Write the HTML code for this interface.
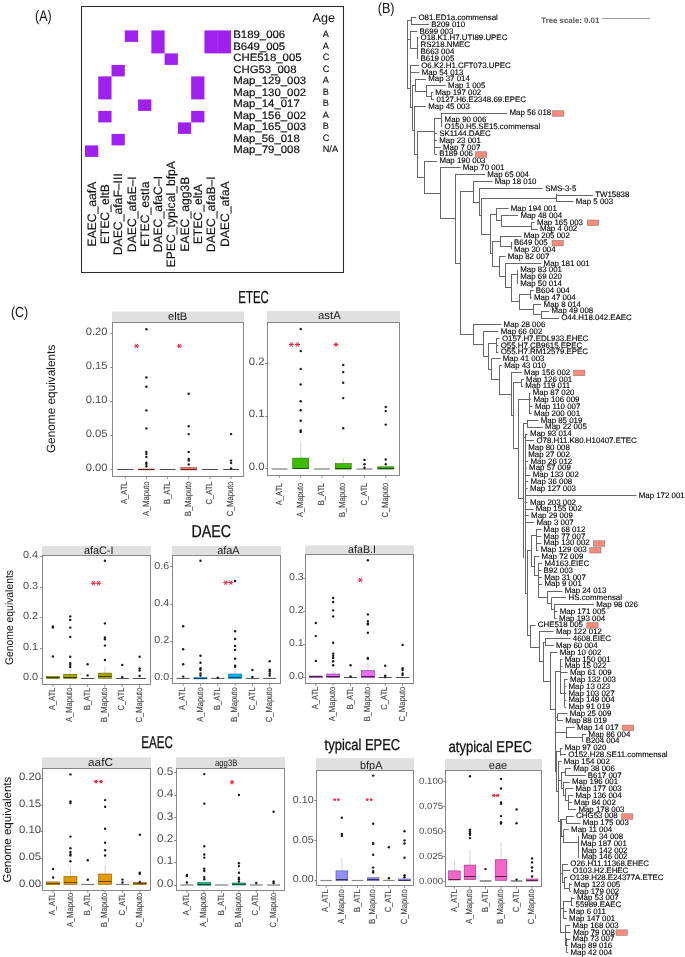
<!DOCTYPE html>
<html><head><meta charset="utf-8"><style>
html,body{margin:0;padding:0;background:#fff;}
svg{display:block;will-change:transform;}
text{font-family:"Liberation Sans",sans-serif;text-rendering:geometricPrecision;}
</style></head><body>
<svg width="685" height="957" viewBox="0 0 685 957" font-family="Liberation Sans, sans-serif" fill="#111">
<rect width="685" height="957" fill="#fff"/>
<text x="35" y="20.8" font-size="15.2" textLength="16.6" lengthAdjust="spacingAndGlyphs">(A)</text>
<rect x="81.5" y="6.5" width="262" height="266" fill="none" stroke="#2b2b2b" stroke-width="1.05"/>
<rect x="124.81" y="30.4" width="13.27" height="11.5" fill="#A020F0"/>
<rect x="151.35" y="30.4" width="13.27" height="23" fill="#A020F0"/>
<rect x="204.43" y="30.4" width="26.54" height="23" fill="#A020F0"/>
<rect x="164.62" y="53.4" width="13.27" height="11.5" fill="#A020F0"/>
<rect x="111.54" y="64.9" width="13.27" height="11.5" fill="#A020F0"/>
<rect x="98.27" y="76.4" width="13.27" height="23" fill="#A020F0"/>
<rect x="191.16" y="76.4" width="13.27" height="23" fill="#A020F0"/>
<rect x="138.08" y="99.4" width="13.27" height="11.5" fill="#A020F0"/>
<rect x="98.27" y="110.9" width="13.27" height="11.5" fill="#A020F0"/>
<rect x="191.16" y="110.9" width="13.27" height="11.5" fill="#A020F0"/>
<rect x="177.89" y="122.4" width="13.27" height="11.5" fill="#A020F0"/>
<rect x="111.54" y="133.9" width="13.27" height="11.5" fill="#A020F0"/>
<rect x="85" y="145.4" width="13.27" height="11.5" fill="#A020F0"/>
<path d="M217.7 30.4V53.4" stroke="#B04CF0" stroke-width="0.5"/>
<text transform="translate(95.84,214.2) rotate(-90)" text-anchor="middle" font-size="12.2" stroke="#000" stroke-width="0.15">EAEC_aafA</text>
<text transform="translate(109.11,214.2) rotate(-90)" text-anchor="middle" font-size="12.2" stroke="#000" stroke-width="0.15">ETEC_eltB</text>
<text transform="translate(122.38,214.2) rotate(-90)" text-anchor="middle" font-size="12.2" stroke="#000" stroke-width="0.15">DAEC_afaF–III</text>
<text transform="translate(135.64,214.2) rotate(-90)" text-anchor="middle" font-size="12.2" stroke="#000" stroke-width="0.15">DAEC_afaE–I</text>
<text transform="translate(148.91,214.2) rotate(-90)" text-anchor="middle" font-size="12.2" stroke="#000" stroke-width="0.15">ETEC_estIa</text>
<text transform="translate(162.19,214.2) rotate(-90)" text-anchor="middle" font-size="12.2" stroke="#000" stroke-width="0.15">DAEC_afaC–I</text>
<text transform="translate(175.45,214.2) rotate(-90)" text-anchor="middle" font-size="12.2" stroke="#000" stroke-width="0.15">EPEC_typical_bfpA</text>
<text transform="translate(188.72,214.2) rotate(-90)" text-anchor="middle" font-size="12.2" stroke="#000" stroke-width="0.15">EAEC_agg3B</text>
<text transform="translate(202,214.2) rotate(-90)" text-anchor="middle" font-size="12.2" stroke="#000" stroke-width="0.15">ETEC_eltA</text>
<text transform="translate(215.26,214.2) rotate(-90)" text-anchor="middle" font-size="12.2" stroke="#000" stroke-width="0.15">DAEC_afaB–I</text>
<text transform="translate(228.53,214.2) rotate(-90)" text-anchor="middle" font-size="12.2" stroke="#000" stroke-width="0.15">DAEC_afaA</text>
<text transform="translate(233.2,38) scale(1.06,1)" font-size="10.75" stroke="#000" stroke-width="0.18">B189_006</text>
<text transform="translate(233.2,49.5) scale(1.06,1)" font-size="10.75" stroke="#000" stroke-width="0.18">B649_005</text>
<text transform="translate(233.2,61) scale(1.06,1)" font-size="10.75" stroke="#000" stroke-width="0.18">CHE518_005</text>
<text transform="translate(233.2,72.5) scale(1.06,1)" font-size="10.75" stroke="#000" stroke-width="0.18">CHG53_008</text>
<text transform="translate(233.2,84) scale(1.06,1)" font-size="10.75" stroke="#000" stroke-width="0.18">Map_129_003</text>
<text transform="translate(233.2,95.5) scale(1.06,1)" font-size="10.75" stroke="#000" stroke-width="0.18">Map_130_002</text>
<text transform="translate(233.2,107) scale(1.06,1)" font-size="10.75" stroke="#000" stroke-width="0.18">Map_14_017</text>
<text transform="translate(233.2,118.5) scale(1.06,1)" font-size="10.75" stroke="#000" stroke-width="0.18">Map_156_002</text>
<text transform="translate(233.2,130) scale(1.06,1)" font-size="10.75" stroke="#000" stroke-width="0.18">Map_165_003</text>
<text transform="translate(233.2,141.5) scale(1.06,1)" font-size="10.75" stroke="#000" stroke-width="0.18">Map_56_018</text>
<text transform="translate(233.2,153) scale(1.06,1)" font-size="10.75" stroke="#000" stroke-width="0.18">Map_79_008</text>
<text x="322.7" y="37.2" font-size="9.2" stroke="#000" stroke-width="0.12">A</text>
<text x="322.7" y="48.7" font-size="9.2" stroke="#000" stroke-width="0.12">A</text>
<text x="322.7" y="60.2" font-size="9.2" stroke="#000" stroke-width="0.12">C</text>
<text x="322.7" y="71.7" font-size="9.2" stroke="#000" stroke-width="0.12">C</text>
<text x="322.7" y="83.2" font-size="9.2" stroke="#000" stroke-width="0.12">A</text>
<text x="322.7" y="94.7" font-size="9.2" stroke="#000" stroke-width="0.12">B</text>
<text x="322.7" y="106.2" font-size="9.2" stroke="#000" stroke-width="0.12">B</text>
<text x="322.7" y="117.7" font-size="9.2" stroke="#000" stroke-width="0.12">A</text>
<text x="322.7" y="129.2" font-size="9.2" stroke="#000" stroke-width="0.12">B</text>
<text x="322.7" y="140.7" font-size="9.2" stroke="#000" stroke-width="0.12">C</text>
<text x="322.7" y="152.2" font-size="9.2" stroke="#000" stroke-width="0.12">N/A</text>
<text x="312.6" y="21.5" font-size="12.6" textLength="22.5" lengthAdjust="spacingAndGlyphs">Age</text>
<text x="377.7" y="13.2" font-size="14.6" textLength="16.8" lengthAdjust="spacingAndGlyphs">(B)</text>
<text x="541.3" y="23.2" font-size="7.85" font-weight="bold" fill="#555">Tree scale: 0.01</text>
<g stroke="#999" stroke-width="1" fill="none"><path d="M602.4 18.5H649.9"/><path d="M602.9 17.3V19.8M649.4 17.3V19.8" stroke="#c8c8c8"/></g>
<path d="M407.5 20V89M411.5 17V25M410.5 31V49M417.5 37V59M410.5 65V108M415.5 79V92M426.5 85V97M431.5 92V100M412.5 85V131M414.5 106V155M417.5 131V178M434.5 118V154M441.5 113V127M424.5 161V194M440.5 167V219M455.5 174V264M460.5 191V335M473.5 181V203M479.5 188V216M481.5 198V235M556.5 194V202M490.5 214V254M496.5 208V221M501.5 215V227M531.5 222V230M492.5 241V267M500.5 236V247M511.5 242V249M499.5 256V277M505.5 263V288M511.5 274V302M517.5 270V284M519.5 294V310M530.5 290V299M533.5 304V315M541.5 311V319M473.5 324V345M483.5 331V357M488.5 343V370M496.5 338V353M491.5 359V380M499.5 365V395M511.5 372V416M513.5 382V449M521.5 379V387M518.5 399V499M529.5 393V414M527.5 420V428M523.5 423V558M525.5 434V594M527.5 550V636M531.5 535V567M536.5 529V551M534.5 556V576M538.5 563V598M547.5 591V604M551.5 598V610M554.5 604V619M530.5 625V648M539.5 631V662M543.5 642V682M545.5 638V646M550.5 652V710M555.5 671V772M560.5 659V694M564.5 679V707M557.5 714V721M566.5 727V738M582.5 734V742M556.5 751V792M560.5 748V756M558.5 761V822M561.5 772V789M565.5 768V776M563.5 782V796M565.5 789V801M568.5 795V810M560.5 819V863M561.5 819V837M566.5 816V824M563.5 830V843M578.5 836V858M560.5 862V933M562.5 864V883M564.5 877V889M569.5 883V891M563.5 901V919M571.5 897V906M565.5 925V946M566.5 938V953M407.5 20.5H411.2M407.5 39.5H410.3M410.5 48.5H417.6M407.5 88.5H410.6M412.5 85.5H415.2M415.5 91.5H426.3M426.5 96.5H431.6M410.5 107.5H412.4M412.5 130.5H414.4M414.5 154.5H417.3M417.5 131.5H434.3M434.5 118.5H441.6M417.5 177.5H424.1M424.5 193.5H440.1M440.5 218.5H455.2M455.5 263.5H460.5M460.5 191.5H473.2M460.5 334.5H473.3M473.5 202.5H479.6M479.5 215.5H481M481.5 198.5H556.4M481.5 234.5H490.6M490.5 214.5H496.5M490.5 253.5H492.9M496.5 220.5H501.7M501.5 226.5H531.6M492.5 241.5H500.2M500.5 246.5H511.2M492.5 266.5H499.9M499.5 276.5H505.7M505.5 287.5H511.5M511.5 274.5H517.1M511.5 301.5H519.3M519.5 294.5H530.8M519.5 309.5H533.1M533.5 314.5H541.5M473.5 344.5H483.1M483.5 356.5H488.2M488.5 343.5H496.2M488.5 369.5H491.4M491.5 379.5H499.1M499.5 394.5H511.2M511.5 415.5H513.2M513.5 382.5H521.8M513.5 448.5H518.9M518.5 399.5H529M518.5 498.5H523.9M523.5 423.5H527M523.5 437.5H525.3M525.5 593.5H527.4M527.5 550.5H531.1M531.5 535.5H536.9M531.5 566.5H534.3M534.5 575.5H538.4M538.5 597.5H547.2M547.5 603.5H551.5M551.5 609.5H554.5M527.5 635.5H530.4M530.5 647.5H539.1M539.5 661.5H543.4M543.5 642.5H545.7M543.5 681.5H550.7M550.5 709.5H555.7M555.5 671.5H560.1M560.5 693.5H564.5M555.5 717.5H557.2M555.5 732.5H566.4M566.5 737.5H582.8M555.5 771.5H556.7M556.5 751.5H560.9M556.5 791.5H558.6M558.5 780.5H561.3M561.5 772.5H565.9M561.5 788.5H563.4M563.5 795.5H565.5M565.5 800.5H568.4M558.5 821.5H560.2M560.5 828.5H561.7M561.5 819.5H566.3M561.5 836.5H563.4M563.5 842.5H578M560.5 862.5H560.6M560.5 873.5H562.1M562.5 882.5H564.4M564.5 888.5H569.4M560.5 908.5H563.8M563.5 901.5H571.4M560.5 932.5H565.3M565.5 945.5H566.7M411.5 17.5H416.1M411.5 24.5H429M410.5 31.5H417.3M417.5 38.5H418.2M417.5 45.5H418.2M417.5 51.5H418.2M417.5 58.5H418.2M410.5 65.5H418.9M410.5 72.5H419.4M415.5 79.5H425.9M426.5 85.5H445.8M431.5 92.5H432.9M431.5 99.5H434.1M414.5 106.5H425.9M441.5 113.5H507.2M441.5 120.5H442.3M441.5 126.5H442.3M434.5 133.5H436.9M434.5 140.5H436.9M434.5 147.5H440.7M434.5 154.5H436.9M424.5 161.5H437.1M440.5 167.5H460.5M455.5 174.5H485M473.5 181.5H492.5M479.5 188.5H542.9M556.5 195.5H592.9M556.5 201.5H573.5M496.5 208.5H508.5M501.5 215.5H518.1M531.5 222.5H534.6M531.5 229.5H537.6M500.5 236.5H521.5M511.5 242.5H511.6M511.5 249.5H511.6M499.5 256.5H505.4M505.5 263.5H541.3M517.5 270.5H518M517.5 277.5H518M517.5 283.5H518M530.5 290.5H533.5M530.5 297.5H531.7M533.5 304.5H541.3M541.5 311.5H549.2M541.5 318.5H558.9M473.5 324.5H501.3M483.5 331.5H498.4M496.5 338.5H499.6M496.5 345.5H498.4M496.5 352.5H498.4M491.5 358.5H500.5M499.5 365.5H501.9M511.5 372.5H521.8M521.5 379.5H523.8M521.5 386.5H523M529.5 393.5H530.5M529.5 399.5H531.1M529.5 406.5H532.6M529.5 413.5H531.7M527.5 420.5H538.4M527.5 427.5H542.8M525.5 434.5H527.6M525.5 440.5H534.1M525.5 447.5H525.9M525.5 454.5H525.9M525.5 461.5H528.2M525.5 468.5H526.8M525.5 475.5H530.5M525.5 481.5H528.2M525.5 488.5H527.6M525.5 495.5H636.4M524.5 502.5H527.6M524.5 509.5H533.5M524.5 515.5H528.8M525.5 522.5H534.1M536.5 529.5H541.3M536.5 536.5H541.3M536.5 543.5H541.3M536.5 550.5H538.4M534.5 556.5H539.3M538.5 563.5H542.2M538.5 570.5H541.3M538.5 577.5H541.9M538.5 584.5H542.2M547.5 591.5H562.4M551.5 597.5H566.2M554.5 604.5H593.9M554.5 611.5H557.4M554.5 618.5H556.8M530.5 625.5H535.5M539.5 631.5H553.6M545.5 638.5H570.5M545.5 645.5H553.6M550.5 652.5H557.4M560.5 659.5H562.4M560.5 666.5H562.4M560.5 672.5H567.6M564.5 679.5H567.6M564.5 686.5H566.2M564.5 693.5H566.2M564.5 700.5H566.2M564.5 707.5H566.2M557.5 713.5H567.4M557.5 720.5H563M566.5 727.5H574.7M582.5 734.5H586.3M582.5 741.5H583.4M560.5 748.5H562.4M560.5 754.5H565.9M558.5 761.5H561.5M565.5 768.5H570.9M565.5 775.5H585.5M563.5 782.5H569.7M565.5 788.5H573.2M568.5 795.5H573.2M568.5 802.5H571.8M568.5 809.5H576.1M566.5 816.5H573.8M566.5 823.5H580.5M563.5 829.5H568.8M578.5 836.5H579.1M578.5 843.5H578.5M578.5 850.5H579.1M578.5 857.5H579.1M562.5 864.5H568M562.5 870.5H570.3M564.5 877.5H567.4M569.5 884.5H571.8M569.5 891.5H570.9M571.5 898.5H574.7M571.5 905.5H573.2M563.5 911.5H566.8M563.5 918.5H566.8M565.5 925.5H570.3M565.5 932.5H570.9M565.5 939.5H570.3M566.5 945.5H568.2M566.5 952.5H568.2" stroke="#666" stroke-width="1" fill="none"/>
<g font-size="7.9" fill="#000" stroke="#000" stroke-width="0.12"><text x="418.4" y="19.9">O81.ED1a.commensal</text><text x="431.3" y="26.73">B209 010</text><text x="419.6" y="33.55">B699 003</text><text x="420.5" y="40.38">O18.K1.H7.UTI89.UPEC</text><text x="420.5" y="47.2">RS218.NMEC</text><text x="420.5" y="54.03">B663 004</text><text x="420.5" y="60.85">B619 005</text><text x="421.2" y="67.68">O6.K2.H1.CFT073.UPEC</text><text x="421.7" y="74.5">Map 54 013</text><text x="428.2" y="81.33">Map 37 014</text><text x="448.1" y="88.16">Map 1 005</text><text x="435.2" y="94.98">Map 197 002</text><text x="436.4" y="101.81">0127.H6.E2348.69.EPEC</text><text x="428.2" y="108.63">Map 45 003</text><text x="509.5" y="115.46">Map 56 018</text><text x="444.6" y="122.28">Map 90 006</text><text x="444.6" y="129.11">O150.H5.SE15.commensal</text><text x="439.2" y="135.93">SK1144.DAEC</text><text x="439.2" y="142.76">Map 23 001</text><text x="443" y="149.58">Map 7 007</text><text x="439.2" y="156.41">B189 006</text><text x="439.4" y="163.24">Map 190 003</text><text x="462.8" y="170.06">Map 70 001</text><text x="487.3" y="176.89">Map 65 004</text><text x="494.8" y="183.71">Map 18 010</text><text x="545.2" y="190.54">SMS-3-5</text><text x="595.2" y="197.36">TW15838</text><text x="575.8" y="204.19">Map 5 003</text><text x="510.8" y="211.01">Map 194 001</text><text x="520.4" y="217.84">Map 48 004</text><text x="536.9" y="224.66">Map 165 003</text><text x="539.9" y="231.49">Map 4 002</text><text x="523.8" y="238.32">Map 205 002</text><text x="513.9" y="245.14">B649 005</text><text x="513.9" y="251.97">Map 30 004</text><text x="507.7" y="258.79">Map 82 007</text><text x="543.6" y="265.62">Map 181 001</text><text x="520.3" y="272.44">Map 83 001</text><text x="520.3" y="279.27">Map 69 020</text><text x="520.3" y="286.09">Map 50 014</text><text x="535.8" y="292.92">B604 004</text><text x="534" y="299.75">Map 47 004</text><text x="543.6" y="306.57">Map 8 014</text><text x="551.5" y="313.4">Map 49 008</text><text x="561.2" y="320.22">O44.H18.042.EAEC</text><text x="503.6" y="327.05">Map 28 006</text><text x="500.7" y="333.87">Map 66 002</text><text x="501.9" y="340.7">O157.H7.EDL933.EHEC</text><text x="500.7" y="347.52">O55.H7.CB9615.EPEC</text><text x="500.7" y="354.35">O55.H7.RM12579.EPEC</text><text x="502.8" y="361.17">Map 41 003</text><text x="504.2" y="368">Map 43 010</text><text x="524.1" y="374.83">Map 156 002</text><text x="526.1" y="381.65">Map 126 001</text><text x="525.3" y="388.48">Map 119 011</text><text x="532.8" y="395.3">Map 87 020</text><text x="533.4" y="402.13">Map 106 009</text><text x="534.9" y="408.95">Map 110 007</text><text x="534" y="415.78">Map 200 001</text><text x="540.7" y="422.6">Map 85 019</text><text x="545.1" y="429.43">Map 22 005</text><text x="529.9" y="436.26">Map 93 014</text><text x="536.4" y="443.08">O78.H11.K80.H10407.ETEC</text><text x="528.2" y="449.91">Map 80 008</text><text x="528.2" y="456.73">Map 27 002</text><text x="530.5" y="463.56">Map 26 012</text><text x="529.1" y="470.38">Map 57 009</text><text x="532.8" y="477.21">Map 133 002</text><text x="530.5" y="484.03">Map 36 008</text><text x="529.9" y="490.86">Map 127 003</text><text x="638.7" y="497.68">Map 172 001</text><text x="529.9" y="504.51">Map 203 002</text><text x="535.8" y="511.34">Map 155 002</text><text x="531.1" y="518.16">Map 29 009</text><text x="536.4" y="524.99">Map 3 007</text><text x="543.6" y="531.81">Map 68 012</text><text x="543.6" y="538.64">Map 77 007</text><text x="543.6" y="545.46">Map 130 002</text><text x="540.7" y="552.29">Map 129 003</text><text x="541.6" y="559.11">Map 72 009</text><text x="544.5" y="565.94">M4163.EIEC</text><text x="543.6" y="572.77">B92 003</text><text x="544.2" y="579.59">Map 31 007</text><text x="544.5" y="586.42">Map 9 001</text><text x="564.7" y="593.24">Map 24 013</text><text x="568.5" y="600.07">HS.commensal</text><text x="596.2" y="606.89">Map 98 026</text><text x="559.7" y="613.72">Map 171 005</text><text x="559.1" y="620.54">Map 193 004</text><text x="537.8" y="627.37">CHE518 005</text><text x="555.9" y="634.2">Map 122 012</text><text x="572.8" y="641.02">4608.EIEC</text><text x="555.9" y="647.85">Map 60 004</text><text x="559.7" y="654.67">Map 10 002</text><text x="564.7" y="661.5">Map 150 001</text><text x="564.7" y="668.32">Map 15 022</text><text x="569.9" y="675.15">Map 61 009</text><text x="569.9" y="681.97">Map 132 003</text><text x="568.5" y="688.8">Map 13 023</text><text x="568.5" y="695.62">Map 103 027</text><text x="568.5" y="702.45">Map 149 004</text><text x="568.5" y="709.28">Map 91 019</text><text x="569.7" y="716.1">Map 25 009</text><text x="565.3" y="722.93">Map 88 019</text><text x="577" y="729.75">Map 14 017</text><text x="588.6" y="736.58">Map 86 004</text><text x="585.7" y="743.4">B204 004</text><text x="564.7" y="750.23">Map 97 020</text><text x="568.2" y="757.05">O152.H28.SE11.commensal</text><text x="563.8" y="763.88">Map 154 002</text><text x="573.2" y="770.71">Map 38 006</text><text x="587.8" y="777.53">B617 007</text><text x="572" y="784.36">Map 196 001</text><text x="575.5" y="791.18">Map 177 003</text><text x="575.5" y="798.01">Map 136 004</text><text x="574.1" y="804.83">Map 84 002</text><text x="578.4" y="811.66">Map 178 003</text><text x="576.1" y="818.48">CHG53 008</text><text x="582.8" y="825.31">Map 175 003</text><text x="571.1" y="832.13">Map 11 004</text><text x="581.4" y="838.96">Map 34 008</text><text x="580.8" y="845.79">Map 187 001</text><text x="581.4" y="852.61">Map 142 002</text><text x="581.4" y="859.44">Map 146 002</text><text x="570.3" y="866.26">O26.H11.11368.EHEC</text><text x="572.6" y="873.09">O103.H2.EHEC</text><text x="569.7" y="879.91">O139.H28.E24377A.ETEC</text><text x="574.1" y="886.74">Map 123 005</text><text x="573.2" y="893.56">Map 179 002</text><text x="577" y="900.39">Map 53 007</text><text x="575.5" y="907.22">55989.EAEC</text><text x="569.1" y="914.04">Map 6 011</text><text x="569.1" y="920.87">Map 147 001</text><text x="572.6" y="927.69">Map 168 003</text><text x="573.2" y="934.52">Map 79 008</text><text x="572.6" y="941.34">Map 73 007</text><text x="570.5" y="948.17">Map 89 016</text><text x="570.5" y="954.99">Map 42 004</text></g>
<rect x="552.65" y="110.81" width="11.2" height="5.4" fill="#FA8B7B" stroke="#8f7370" stroke-width="0.6"/>
<rect x="475.45" y="151.76" width="11.2" height="5.4" fill="#FA8B7B" stroke="#8f7370" stroke-width="0.6"/>
<rect x="587.45" y="220.01" width="11.2" height="5.4" fill="#FA8B7B" stroke="#8f7370" stroke-width="0.6"/>
<rect x="552.05" y="240.49" width="11.2" height="5.4" fill="#FA8B7B" stroke="#8f7370" stroke-width="0.6"/>
<rect x="573.65" y="370.18" width="11.2" height="5.4" fill="#FA8B7B" stroke="#8f7370" stroke-width="0.6"/>
<rect x="593.55" y="540.81" width="11.2" height="5.4" fill="#FA8B7B" stroke="#8f7370" stroke-width="0.6"/>
<rect x="589.75" y="547.64" width="11.2" height="5.4" fill="#FA8B7B" stroke="#8f7370" stroke-width="0.6"/>
<rect x="586.85" y="622.72" width="11.2" height="5.4" fill="#FA8B7B" stroke="#8f7370" stroke-width="0.6"/>
<rect x="622.45" y="725.1" width="11.2" height="5.4" fill="#FA8B7B" stroke="#8f7370" stroke-width="0.6"/>
<rect x="621.65" y="813.83" width="11.2" height="5.4" fill="#FA8B7B" stroke="#8f7370" stroke-width="0.6"/>
<rect x="616.05" y="929.87" width="11.2" height="5.4" fill="#FA8B7B" stroke="#8f7370" stroke-width="0.6"/>
<text x="10.9" y="316.9" font-size="14.6" textLength="17.3" lengthAdjust="spacingAndGlyphs">(C)</text>
<text x="238.3" y="302.8" font-size="17.4" textLength="30.5" lengthAdjust="spacingAndGlyphs" stroke="#111" stroke-width="0.3">ETEC</text>
<text x="191.5" y="536.6" font-size="17.2" textLength="39.5" lengthAdjust="spacingAndGlyphs" stroke="#111" stroke-width="0.3">DAEC</text>
<text x="141.2" y="747.9" font-size="17.0" textLength="31.8" lengthAdjust="spacingAndGlyphs" stroke="#111" stroke-width="0.3">EAEC</text>
<text x="324.6" y="750.2" font-size="15.6" textLength="75.6" lengthAdjust="spacingAndGlyphs" stroke="#111" stroke-width="0.3">typical EPEC</text>
<text x="448.6" y="751.7" font-size="15.6" textLength="83.2" lengthAdjust="spacingAndGlyphs" stroke="#111" stroke-width="0.3">atypical EPEC</text>
<text transform="translate(54.6,453.1) rotate(-90)" font-size="12" textLength="108.4" lengthAdjust="spacingAndGlyphs">Genome equivalents</text>
<text transform="translate(12.8,665) rotate(-90)" font-size="11" textLength="95" lengthAdjust="spacingAndGlyphs">Genome equivalents</text>
<text transform="translate(10.6,882.6) rotate(-90)" font-size="11.6" textLength="105.9" lengthAdjust="spacingAndGlyphs">Genome equivalents</text>
<rect x="112" y="311.6" width="132" height="10.9" fill="#E0E0E0"/>
<text x="177.6" y="319.7" font-size="11" text-anchor="middle" fill="#1a1a1a" textLength="19.2" lengthAdjust="spacingAndGlyphs">eltB</text>
<rect x="112.5" y="322.5" width="131" height="154" fill="#fff" stroke="#808080" stroke-width="0.95"/>
<text transform="translate(107.6,470.5) scale(1.06,1)" font-size="10.6" text-anchor="end" fill="#4D4D4D">0.00</text>
<text transform="translate(107.6,436.6) scale(1.06,1)" font-size="10.6" text-anchor="end" fill="#4D4D4D">0.05</text>
<text transform="translate(107.6,402.7) scale(1.06,1)" font-size="10.6" text-anchor="end" fill="#4D4D4D">0.10</text>
<text transform="translate(107.6,368.7) scale(1.06,1)" font-size="10.6" text-anchor="end" fill="#4D4D4D">0.15</text>
<text transform="translate(107.6,334.8) scale(1.06,1)" font-size="10.6" text-anchor="end" fill="#4D4D4D">0.20</text>
<path d="M110.2 469.5H112.5M110.2 435.5H112.5M110.2 401.5H112.5M110.2 367.5H112.5M110.2 333.5H112.5M125.21 476.5V478.8M146.38 476.5V478.8M167.56 476.5V478.8M188.74 476.5V478.8M209.92 476.5V478.8M231.09 476.5V478.8" stroke="#808080" stroke-width="0.9" fill="none"/>
<text transform="translate(127.41,481.5) rotate(-90) scale(0.85,1)" font-size="8.9" text-anchor="end" fill="#444" stroke="#444" stroke-width="0.1">A_ATL</text>
<text transform="translate(148.58,481.5) rotate(-90) scale(0.85,1)" font-size="8.9" text-anchor="end" fill="#444" stroke="#444" stroke-width="0.1">A_Maputo</text>
<text transform="translate(169.76,481.5) rotate(-90) scale(0.85,1)" font-size="8.9" text-anchor="end" fill="#444" stroke="#444" stroke-width="0.1">B_ATL</text>
<text transform="translate(190.94,481.5) rotate(-90) scale(0.85,1)" font-size="8.9" text-anchor="end" fill="#444" stroke="#444" stroke-width="0.1">B_Maputo</text>
<text transform="translate(212.12,481.5) rotate(-90) scale(0.85,1)" font-size="8.9" text-anchor="end" fill="#444" stroke="#444" stroke-width="0.1">C_ATL</text>
<text transform="translate(233.29,481.5) rotate(-90) scale(0.85,1)" font-size="8.9" text-anchor="end" fill="#444" stroke="#444" stroke-width="0.1">C_Maputo</text>
<path d="M117.28 469.5H133.13" stroke="#4d4d4d" stroke-width="1"/>
<rect x="138.46" y="469" width="15.85" height="0.9" fill="#F8766D" stroke="#8a3c36" stroke-width="0.6"/>
<path d="M138.46 469.5H154.31" stroke="#5a2a26" stroke-width="1"/>
<path d="M159.64 469.5H175.48" stroke="#4d4d4d" stroke-width="1"/>
<rect x="180.82" y="467.6" width="15.85" height="2.3" fill="#F8766D" stroke="#8a3c36" stroke-width="0.6"/>
<path d="M180.82 469.5H196.66" stroke="#5a2a26" stroke-width="1"/>
<path d="M201.99 469.5H217.84" stroke="#4d4d4d" stroke-width="1"/>
<path d="M223.17 469.5H239.02" stroke="#4d4d4d" stroke-width="1"/>
<g fill="#1a1a1a"><circle cx="146.38" cy="329.3" r="1.2"/><circle cx="146.38" cy="377.4" r="1.2"/><circle cx="146.38" cy="386.8" r="1.2"/><circle cx="146.38" cy="410.4" r="1.2"/><circle cx="146.38" cy="428.4" r="1.2"/><circle cx="146.38" cy="452" r="1.2"/><circle cx="146.38" cy="454" r="1.2"/><circle cx="146.38" cy="456.9" r="1.2"/><circle cx="146.38" cy="462.7" r="1.2"/><circle cx="146.38" cy="464" r="1.2"/><circle cx="146.38" cy="466.2" r="1.2"/><circle cx="188.74" cy="393.7" r="1.2"/><circle cx="188.74" cy="426.2" r="1.2"/><circle cx="188.74" cy="434.1" r="1.2"/><circle cx="188.74" cy="452" r="1.2"/><circle cx="188.74" cy="458.9" r="1.2"/><circle cx="188.74" cy="460.6" r="1.2"/><circle cx="188.74" cy="464.4" r="1.2"/><circle cx="231.09" cy="434.1" r="1.2"/><circle cx="231.09" cy="460.6" r="1.2"/><circle cx="231.09" cy="463.1" r="1.2"/><circle cx="231.09" cy="468.5" r="1.2"/></g>
<path d="M134.1 346L139.1 346M135.35 343.83L137.85 348.17M137.85 343.83L135.35 348.17" stroke="#E8203A" stroke-width="1.0"/>
<path d="M176.8 346L181.8 346M178.05 343.83L180.55 348.17M180.55 343.83L178.05 348.17" stroke="#E8203A" stroke-width="1.0"/>
<rect x="267" y="311" width="133" height="11.5" fill="#E0E0E0"/>
<text x="329.4" y="318.6" font-size="11.2" text-anchor="middle" fill="#1a1a1a" textLength="22.6" lengthAdjust="spacingAndGlyphs">astA</text>
<rect x="267.5" y="322.5" width="132" height="153" fill="#fff" stroke="#808080" stroke-width="0.95"/>
<text transform="translate(264.5,470) scale(1.06,1)" font-size="10.75" text-anchor="end" fill="#4D4D4D">0.0</text>
<text transform="translate(264.5,417.3) scale(1.06,1)" font-size="10.75" text-anchor="end" fill="#4D4D4D">0.1</text>
<text transform="translate(264.5,364.6) scale(1.06,1)" font-size="10.75" text-anchor="end" fill="#4D4D4D">0.2</text>
<path d="M265.2 468.5H267.5M265.2 416.5H267.5M265.2 363.5H267.5M279.45 475.5V477.8M300.71 475.5V477.8M321.97 475.5V477.8M343.23 475.5V477.8M364.49 475.5V477.8M385.75 475.5V477.8" stroke="#808080" stroke-width="0.9" fill="none"/>
<text transform="translate(281.65,482.7) rotate(-90) scale(0.85,1)" font-size="8.9" text-anchor="end" fill="#444" stroke="#444" stroke-width="0.1">A_ATL</text>
<text transform="translate(302.91,482.7) rotate(-90) scale(0.85,1)" font-size="8.9" text-anchor="end" fill="#444" stroke="#444" stroke-width="0.1">A_Maputo</text>
<text transform="translate(324.17,482.7) rotate(-90) scale(0.85,1)" font-size="8.9" text-anchor="end" fill="#444" stroke="#444" stroke-width="0.1">B_ATL</text>
<text transform="translate(345.43,482.7) rotate(-90) scale(0.85,1)" font-size="8.9" text-anchor="end" fill="#444" stroke="#444" stroke-width="0.1">B_Maputo</text>
<text transform="translate(366.69,482.7) rotate(-90) scale(0.85,1)" font-size="8.9" text-anchor="end" fill="#444" stroke="#444" stroke-width="0.1">C_ATL</text>
<text transform="translate(387.95,482.7) rotate(-90) scale(0.85,1)" font-size="8.9" text-anchor="end" fill="#444" stroke="#444" stroke-width="0.1">C_Maputo</text>
<path d="M271.47 469H287.44" stroke="#a3a3a3" stroke-width="1.7"/>
<path d="M300.71 442.4V458.1" stroke="#C8C8C8" stroke-width="0.8"/>
<rect x="292.73" y="458.1" width="15.97" height="10.6" fill="#3CBB00" stroke="#2a6b10" stroke-width="0.6"/>
<path d="M292.73 468.5H308.7" stroke="#1f4d0a" stroke-width="1"/>
<path d="M313.99 469H329.95" stroke="#a3a3a3" stroke-width="1.7"/>
<path d="M343.23 458V463.6" stroke="#C8C8C8" stroke-width="0.8"/>
<rect x="335.25" y="463.6" width="15.97" height="5.5" fill="#3CBB00" stroke="#2a6b10" stroke-width="0.6"/>
<path d="M335.25 468.5H351.21" stroke="#1f4d0a" stroke-width="1"/>
<path d="M356.5 469H372.47" stroke="#a3a3a3" stroke-width="1.7"/>
<rect x="377.76" y="466.8" width="15.97" height="2.3" fill="#3CBB00" stroke="#2a6b10" stroke-width="0.6"/>
<path d="M377.76 468.5H393.73" stroke="#1f4d0a" stroke-width="1"/>
<g fill="#1a1a1a"><circle cx="300.71" cy="329" r="1.2"/><circle cx="300.71" cy="351.1" r="1.2"/><circle cx="300.71" cy="368.9" r="1.2"/><circle cx="300.71" cy="384.4" r="1.2"/><circle cx="300.71" cy="401.2" r="1.2"/><circle cx="300.71" cy="410.2" r="1.2"/><circle cx="300.71" cy="420.7" r="1.2"/><circle cx="300.71" cy="430.5" r="1.2"/><circle cx="300.71" cy="431.9" r="1.2"/><circle cx="343.23" cy="365" r="1.2"/><circle cx="343.23" cy="372.1" r="1.2"/><circle cx="343.23" cy="382.8" r="1.2"/><circle cx="343.23" cy="398.1" r="1.2"/><circle cx="343.23" cy="428.2" r="1.2"/><circle cx="364.49" cy="459.9" r="1.2"/><circle cx="364.49" cy="464.2" r="1.2"/><circle cx="364.49" cy="467.7" r="1.2"/><circle cx="385.75" cy="407" r="1.2"/><circle cx="385.75" cy="411.1" r="1.2"/><circle cx="385.75" cy="424.6" r="1.2"/><circle cx="385.75" cy="459.5" r="1.2"/><circle cx="385.75" cy="464.3" r="1.2"/></g>
<path d="M288.9 344.5L293.9 344.5M290.15 342.33L292.65 346.67M292.65 342.33L290.15 346.67" stroke="#E8203A" stroke-width="1.0"/>
<path d="M295 344.5L300 344.5M296.25 342.33L298.75 346.67M298.75 342.33L296.25 346.67" stroke="#E8203A" stroke-width="1.0"/>
<path d="M333.5 344.6L338.5 344.6M334.75 342.43L337.25 346.77M337.25 342.43L334.75 346.77" stroke="#E8203A" stroke-width="1.0"/>
<rect x="42" y="546.1" width="109" height="9.4" fill="#E0E0E0"/>
<text x="98.7" y="554.4" font-size="11" text-anchor="middle" fill="#1a1a1a" textLength="29.6" lengthAdjust="spacingAndGlyphs">afaC-I</text>
<rect x="42.5" y="555.5" width="108" height="129" fill="#fff" stroke="#808080" stroke-width="0.95"/>
<text transform="translate(38.1,680.3) scale(1.06,1)" font-size="10.3" text-anchor="end" fill="#4D4D4D">0.0</text>
<text transform="translate(38.1,649.8) scale(1.06,1)" font-size="10.3" text-anchor="end" fill="#4D4D4D">0.1</text>
<text transform="translate(38.1,619.3) scale(1.06,1)" font-size="10.3" text-anchor="end" fill="#4D4D4D">0.2</text>
<text transform="translate(38.1,588.8) scale(1.06,1)" font-size="10.3" text-anchor="end" fill="#4D4D4D">0.3</text>
<text transform="translate(38.1,558.3) scale(1.06,1)" font-size="10.3" text-anchor="end" fill="#4D4D4D">0.4</text>
<path d="M40.2 678.5H42.5M40.2 648.5H42.5M40.2 617.5H42.5M40.2 587.5H42.5M40.2 556.5H42.5M52.9 684.5V686.8M70.24 684.5V686.8M87.58 684.5V686.8M104.92 684.5V686.8M122.26 684.5V686.8M139.6 684.5V686.8" stroke="#808080" stroke-width="0.9" fill="none"/>
<text transform="translate(55.1,687.6) rotate(-90) scale(0.85,1)" font-size="8.9" text-anchor="end" fill="#444" stroke="#444" stroke-width="0.1">A_ATL</text>
<text transform="translate(72.44,687.6) rotate(-90) scale(0.85,1)" font-size="8.9" text-anchor="end" fill="#444" stroke="#444" stroke-width="0.1">A_Maputo</text>
<text transform="translate(89.78,687.6) rotate(-90) scale(0.85,1)" font-size="8.9" text-anchor="end" fill="#444" stroke="#444" stroke-width="0.1">B_ATL</text>
<text transform="translate(107.12,687.6) rotate(-90) scale(0.85,1)" font-size="8.9" text-anchor="end" fill="#444" stroke="#444" stroke-width="0.1">B_Maputo</text>
<text transform="translate(124.46,687.6) rotate(-90) scale(0.85,1)" font-size="8.9" text-anchor="end" fill="#444" stroke="#444" stroke-width="0.1">C_ATL</text>
<text transform="translate(141.8,687.6) rotate(-90) scale(0.85,1)" font-size="8.9" text-anchor="end" fill="#444" stroke="#444" stroke-width="0.1">C_Maputo</text>
<rect x="46.37" y="676.6" width="13.06" height="1.9" fill="#A5AA00" stroke="#5f6200" stroke-width="0.6"/>
<path d="M46.37 677.5H59.44" stroke="#3a3c00" stroke-width="1"/>
<path d="M70.24 668.9V674.3" stroke="#C8C8C8" stroke-width="0.8"/>
<rect x="63.71" y="674.3" width="13.06" height="4" fill="#A5AA00" stroke="#5f6200" stroke-width="0.6"/>
<path d="M63.71 677.5H76.77" stroke="#3a3c00" stroke-width="1"/>
<path d="M81.05 678.5H94.11" stroke="#4d4d4d" stroke-width="1"/>
<path d="M104.92 666.6V673.1" stroke="#C8C8C8" stroke-width="0.8"/>
<rect x="98.39" y="673.1" width="13.06" height="5.2" fill="#A5AA00" stroke="#5f6200" stroke-width="0.6"/>
<path d="M98.39 676.5H111.45" stroke="#3a3c00" stroke-width="1"/>
<path d="M115.73 678.5H128.79" stroke="#4d4d4d" stroke-width="1"/>
<path d="M133.06 678.5H146.13" stroke="#4d4d4d" stroke-width="1"/>
<g fill="#1a1a1a"><circle cx="52.9" cy="626.4" r="1.2"/><circle cx="52.9" cy="627.6" r="1.2"/><circle cx="52.9" cy="656.5" r="1.2"/><circle cx="70.24" cy="616.4" r="1.2"/><circle cx="70.24" cy="619.9" r="1.2"/><circle cx="70.24" cy="627.6" r="1.2"/><circle cx="70.24" cy="636.9" r="1.2"/><circle cx="70.24" cy="656.8" r="1.2"/><circle cx="70.24" cy="663.1" r="1.2"/><circle cx="70.24" cy="664.7" r="1.2"/><circle cx="70.24" cy="667" r="1.2"/><circle cx="87.58" cy="664.2" r="1.2"/><circle cx="87.58" cy="675.4" r="1.2"/><circle cx="104.92" cy="560.8" r="1.2"/><circle cx="104.92" cy="623.4" r="1.2"/><circle cx="104.92" cy="637.4" r="1.2"/><circle cx="104.92" cy="639.2" r="1.2"/><circle cx="104.92" cy="645.6" r="1.2"/><circle cx="104.92" cy="660" r="1.2"/><circle cx="122.26" cy="664.9" r="1.2"/><circle cx="122.26" cy="677" r="1.2"/><circle cx="139.6" cy="656.8" r="1.2"/><circle cx="139.6" cy="668.4" r="1.2"/><circle cx="139.6" cy="670.5" r="1.2"/><circle cx="139.6" cy="675.9" r="1.2"/></g>
<path d="M90.9 583.3L95.9 583.3M92.15 581.13L94.65 585.47M94.65 581.13L92.15 585.47" stroke="#E8203A" stroke-width="1.0"/>
<path d="M96.1 583.3L101.1 583.3M97.35 581.13L99.85 585.47M99.85 581.13L97.35 585.47" stroke="#E8203A" stroke-width="1.0"/>
<rect x="172" y="546" width="109" height="9.5" fill="#E0E0E0"/>
<text x="228.4" y="553.6" font-size="11" text-anchor="middle" fill="#1a1a1a" textLength="22.4" lengthAdjust="spacingAndGlyphs">afaA</text>
<rect x="172.5" y="555.5" width="108" height="128" fill="#fff" stroke="#808080" stroke-width="0.95"/>
<text transform="translate(169.1,680.3) scale(1.06,1)" font-size="10.1" text-anchor="end" fill="#4D4D4D">0.0</text>
<text transform="translate(169.1,643.1) scale(1.06,1)" font-size="10.1" text-anchor="end" fill="#4D4D4D">0.2</text>
<text transform="translate(169.1,605.9) scale(1.06,1)" font-size="10.1" text-anchor="end" fill="#4D4D4D">0.4</text>
<text transform="translate(169.1,568.7) scale(1.06,1)" font-size="10.1" text-anchor="end" fill="#4D4D4D">0.6</text>
<path d="M170.2 678.5H172.5M170.2 641.5H172.5M170.2 604.5H172.5M170.2 566.5H172.5M183.18 683.5V685.8M200.49 683.5V685.8M217.8 683.5V685.8M235.1 683.5V685.8M252.41 683.5V685.8M269.72 683.5V685.8" stroke="#808080" stroke-width="0.9" fill="none"/>
<text transform="translate(185.38,687.4) rotate(-90) scale(0.85,1)" font-size="8.9" text-anchor="end" fill="#444" stroke="#444" stroke-width="0.1">A_ATL</text>
<text transform="translate(202.69,687.4) rotate(-90) scale(0.85,1)" font-size="8.9" text-anchor="end" fill="#444" stroke="#444" stroke-width="0.1">A_Maputo</text>
<text transform="translate(220,687.4) rotate(-90) scale(0.85,1)" font-size="8.9" text-anchor="end" fill="#444" stroke="#444" stroke-width="0.1">B_ATL</text>
<text transform="translate(237.3,687.4) rotate(-90) scale(0.85,1)" font-size="8.9" text-anchor="end" fill="#444" stroke="#444" stroke-width="0.1">B_Maputo</text>
<text transform="translate(254.61,687.4) rotate(-90) scale(0.85,1)" font-size="8.9" text-anchor="end" fill="#444" stroke="#444" stroke-width="0.1">C_ATL</text>
<text transform="translate(271.92,687.4) rotate(-90) scale(0.85,1)" font-size="8.9" text-anchor="end" fill="#444" stroke="#444" stroke-width="0.1">C_Maputo</text>
<path d="M176.65 678.4H189.72" stroke="#4d4d4d" stroke-width="1"/>
<rect x="193.96" y="677.6" width="13.06" height="1.3" fill="#00B4F0" stroke="#0b6f9a" stroke-width="0.6"/>
<path d="M193.96 678.5H207.02" stroke="#0a4a66" stroke-width="1"/>
<path d="M211.26 678.4H224.33" stroke="#4d4d4d" stroke-width="1"/>
<path d="M235.1 669V674" stroke="#C8C8C8" stroke-width="0.8"/>
<rect x="228.57" y="674" width="13.06" height="4.3" fill="#00B4F0" stroke="#0b6f9a" stroke-width="0.6"/>
<path d="M228.57 677.5H241.64" stroke="#0a4a66" stroke-width="1"/>
<path d="M245.88 678.4H258.94" stroke="#4d4d4d" stroke-width="1"/>
<path d="M263.18 678.4H276.25" stroke="#4d4d4d" stroke-width="1"/>
<g fill="#1a1a1a"><circle cx="183.18" cy="626.3" r="1.2"/><circle cx="183.18" cy="649.3" r="1.2"/><circle cx="183.18" cy="664.2" r="1.2"/><circle cx="183.18" cy="676.6" r="1.2"/><circle cx="200.49" cy="560.7" r="1.2"/><circle cx="200.49" cy="655.8" r="1.2"/><circle cx="200.49" cy="662.8" r="1.2"/><circle cx="200.49" cy="668.3" r="1.2"/><circle cx="200.49" cy="670" r="1.2"/><circle cx="200.49" cy="673.4" r="1.2"/><circle cx="200.49" cy="675.5" r="1.2"/><circle cx="217.8" cy="677.6" r="1.2"/><circle cx="235.1" cy="581" r="1.2"/><circle cx="235.1" cy="631.3" r="1.2"/><circle cx="235.1" cy="639" r="1.2"/><circle cx="235.1" cy="646" r="1.2"/><circle cx="235.1" cy="649.9" r="1.2"/><circle cx="235.1" cy="658.7" r="1.2"/><circle cx="235.1" cy="665.7" r="1.2"/><circle cx="235.1" cy="666.8" r="1.2"/><circle cx="252.41" cy="670" r="1.2"/><circle cx="252.41" cy="677" r="1.2"/><circle cx="269.72" cy="661.3" r="1.2"/><circle cx="269.72" cy="669.6" r="1.2"/><circle cx="269.72" cy="671.2" r="1.2"/><circle cx="269.72" cy="673.4" r="1.2"/><circle cx="269.72" cy="675.5" r="1.2"/></g>
<path d="M223.2 582.6L228.2 582.6M224.45 580.43L226.95 584.77M226.95 580.43L224.45 584.77" stroke="#E8203A" stroke-width="1.0"/>
<path d="M228.3 582.6L233.3 582.6M229.55 580.43L232.05 584.77M232.05 580.43L229.55 584.77" stroke="#E8203A" stroke-width="1.0"/>
<rect x="305" y="545.4" width="109" height="9.1" fill="#E0E0E0"/>
<text x="362" y="553.3" font-size="10.9" text-anchor="middle" fill="#1a1a1a" textLength="27.8" lengthAdjust="spacingAndGlyphs">afaB.I</text>
<rect x="305.5" y="554.5" width="108" height="129" fill="#fff" stroke="#808080" stroke-width="0.95"/>
<text transform="translate(303.7,679.1) scale(1.06,1)" font-size="10" text-anchor="end" fill="#4D4D4D">0.0</text>
<text transform="translate(303.7,646.2) scale(1.06,1)" font-size="10" text-anchor="end" fill="#4D4D4D">0.1</text>
<text transform="translate(303.7,613.3) scale(1.06,1)" font-size="10" text-anchor="end" fill="#4D4D4D">0.2</text>
<text transform="translate(303.7,580.4) scale(1.06,1)" font-size="10" text-anchor="end" fill="#4D4D4D">0.3</text>
<path d="M303.2 677.5H305.5M303.2 644.5H305.5M303.2 611.5H305.5M303.2 578.5H305.5M315.81 683.5V685.8M333.17 683.5V685.8M350.52 683.5V685.8M367.88 683.5V685.8M385.23 683.5V685.8M402.59 683.5V685.8" stroke="#808080" stroke-width="0.9" fill="none"/>
<text transform="translate(318.01,686.8) rotate(-90) scale(0.85,1)" font-size="8.9" text-anchor="end" fill="#444" stroke="#444" stroke-width="0.1">A_ATL</text>
<text transform="translate(335.37,686.8) rotate(-90) scale(0.85,1)" font-size="8.9" text-anchor="end" fill="#444" stroke="#444" stroke-width="0.1">A_Maputo</text>
<text transform="translate(352.72,686.8) rotate(-90) scale(0.85,1)" font-size="8.9" text-anchor="end" fill="#444" stroke="#444" stroke-width="0.1">B_ATL</text>
<text transform="translate(370.08,686.8) rotate(-90) scale(0.85,1)" font-size="8.9" text-anchor="end" fill="#444" stroke="#444" stroke-width="0.1">B_Maputo</text>
<text transform="translate(387.43,686.8) rotate(-90) scale(0.85,1)" font-size="8.9" text-anchor="end" fill="#444" stroke="#444" stroke-width="0.1">C_ATL</text>
<text transform="translate(404.79,686.8) rotate(-90) scale(0.85,1)" font-size="8.9" text-anchor="end" fill="#444" stroke="#444" stroke-width="0.1">C_Maputo</text>
<rect x="309.28" y="676" width="13.06" height="1.7" fill="#E76BF3" stroke="#7c3a84" stroke-width="0.6"/>
<path d="M309.28 676.5H322.35" stroke="#4a2050" stroke-width="1"/>
<path d="M333.17 670.5V674" stroke="#C8C8C8" stroke-width="0.8"/>
<rect x="326.64" y="674" width="13.06" height="3.4" fill="#E76BF3" stroke="#7c3a84" stroke-width="0.6"/>
<path d="M326.64 676.5H339.7" stroke="#4a2050" stroke-width="1"/>
<path d="M343.99 677.5H357.05" stroke="#4d4d4d" stroke-width="1"/>
<path d="M367.88 662.4V670.5" stroke="#C8C8C8" stroke-width="0.8"/>
<rect x="361.35" y="670.5" width="13.06" height="7.3" fill="#E76BF3" stroke="#7c3a84" stroke-width="0.6"/>
<path d="M361.35 676.5H374.41" stroke="#4a2050" stroke-width="1"/>
<path d="M378.7 677.5H391.76" stroke="#4d4d4d" stroke-width="1"/>
<path d="M396.05 677.5H409.12" stroke="#4d4d4d" stroke-width="1"/>
<g fill="#1a1a1a"><circle cx="315.81" cy="623" r="1.2"/><circle cx="315.81" cy="636.1" r="1.2"/><circle cx="315.81" cy="660.9" r="1.2"/><circle cx="333.17" cy="598" r="1.2"/><circle cx="333.17" cy="602" r="1.2"/><circle cx="333.17" cy="610.4" r="1.2"/><circle cx="333.17" cy="616.4" r="1.2"/><circle cx="333.17" cy="642.7" r="1.2"/><circle cx="333.17" cy="653.6" r="1.2"/><circle cx="333.17" cy="655.8" r="1.2"/><circle cx="333.17" cy="658" r="1.2"/><circle cx="333.17" cy="661.3" r="1.2"/><circle cx="333.17" cy="665.3" r="1.2"/><circle cx="350.52" cy="665.3" r="1.2"/><circle cx="350.52" cy="676.4" r="1.2"/><circle cx="367.88" cy="560.2" r="1.2"/><circle cx="367.88" cy="614.4" r="1.2"/><circle cx="367.88" cy="621.1" r="1.2"/><circle cx="367.88" cy="623.4" r="1.2"/><circle cx="367.88" cy="624.4" r="1.2"/><circle cx="367.88" cy="632.8" r="1.2"/><circle cx="367.88" cy="658" r="1.2"/><circle cx="367.88" cy="658.7" r="1.2"/><circle cx="385.23" cy="665.7" r="1.2"/><circle cx="385.23" cy="675.6" r="1.2"/><circle cx="385.23" cy="677.1" r="1.2"/><circle cx="402.59" cy="644.9" r="1.2"/><circle cx="402.59" cy="668.3" r="1.2"/><circle cx="402.59" cy="670" r="1.2"/><circle cx="402.59" cy="673.4" r="1.2"/><circle cx="402.59" cy="675.1" r="1.2"/></g>
<path d="M357.8 580.1L362.8 580.1M359.05 577.93L361.55 582.27M361.55 577.93L359.05 582.27" stroke="#E8203A" stroke-width="1.0"/>
<rect x="42" y="757.3" width="109" height="11.2" fill="#E0E0E0"/>
<text x="100.5" y="766" font-size="11.4" text-anchor="middle" fill="#1a1a1a" textLength="24.8" lengthAdjust="spacingAndGlyphs">aafC</text>
<rect x="42.5" y="768.5" width="108" height="122" fill="#fff" stroke="#808080" stroke-width="0.95"/>
<text transform="translate(41.2,886.5) scale(1.06,1)" font-size="10.75" text-anchor="end" fill="#4D4D4D">0.00</text>
<text transform="translate(41.2,859.95) scale(1.06,1)" font-size="10.75" text-anchor="end" fill="#4D4D4D">0.05</text>
<text transform="translate(41.2,833.4) scale(1.06,1)" font-size="10.75" text-anchor="end" fill="#4D4D4D">0.10</text>
<text transform="translate(41.2,806.85) scale(1.06,1)" font-size="10.75" text-anchor="end" fill="#4D4D4D">0.15</text>
<text transform="translate(41.2,780.3) scale(1.06,1)" font-size="10.75" text-anchor="end" fill="#4D4D4D">0.20</text>
<path d="M40.2 885.5H42.5M40.2 858.5H42.5M40.2 831.5H42.5M40.2 805.5H42.5M40.2 778.5H42.5M53.1 890.5V892.8M70.44 890.5V892.8M87.78 890.5V892.8M105.12 890.5V892.8M122.46 890.5V892.8M139.8 890.5V892.8" stroke="#808080" stroke-width="0.9" fill="none"/>
<text transform="translate(55.3,892.7) rotate(-90) scale(0.85,1)" font-size="8.9" text-anchor="end" fill="#444" stroke="#444" stroke-width="0.1">A_ATL</text>
<text transform="translate(72.64,892.7) rotate(-90) scale(0.85,1)" font-size="8.9" text-anchor="end" fill="#444" stroke="#444" stroke-width="0.1">A_Maputo</text>
<text transform="translate(89.98,892.7) rotate(-90) scale(0.85,1)" font-size="8.9" text-anchor="end" fill="#444" stroke="#444" stroke-width="0.1">B_ATL</text>
<text transform="translate(107.32,892.7) rotate(-90) scale(0.85,1)" font-size="8.9" text-anchor="end" fill="#444" stroke="#444" stroke-width="0.1">B_Maputo</text>
<text transform="translate(124.66,892.7) rotate(-90) scale(0.85,1)" font-size="8.9" text-anchor="end" fill="#444" stroke="#444" stroke-width="0.1">C_ATL</text>
<text transform="translate(142,892.7) rotate(-90) scale(0.85,1)" font-size="8.9" text-anchor="end" fill="#444" stroke="#444" stroke-width="0.1">C_Maputo</text>
<rect x="46.57" y="881.9" width="13.06" height="2.8" fill="#E39A00" stroke="#8a5e00" stroke-width="0.6"/>
<path d="M46.57 883.5H59.64" stroke="#6b4a00" stroke-width="1"/>
<path d="M70.44 866.3V876.3" stroke="#C8C8C8" stroke-width="0.8"/>
<rect x="63.91" y="876.3" width="13.06" height="8.2" fill="#E39A00" stroke="#8a5e00" stroke-width="0.6"/>
<path d="M63.91 882.5H76.97" stroke="#6b4a00" stroke-width="1"/>
<path d="M81.25 884.5H94.31" stroke="#7a7a7a" stroke-width="1.2"/>
<path d="M105.12 865.1V874" stroke="#C8C8C8" stroke-width="0.8"/>
<rect x="98.59" y="874" width="13.06" height="10.5" fill="#E39A00" stroke="#8a5e00" stroke-width="0.6"/>
<path d="M98.59 881.5H111.65" stroke="#6b4a00" stroke-width="1"/>
<path d="M115.93 884.5H128.99" stroke="#7a7a7a" stroke-width="1.2"/>
<rect x="133.26" y="882.6" width="13.06" height="2.1" fill="#E39A00" stroke="#8a5e00" stroke-width="0.6"/>
<path d="M133.26 883.5H146.33" stroke="#6b4a00" stroke-width="1"/>
<g fill="#1a1a1a"><circle cx="53.1" cy="869" r="1.2"/><circle cx="53.1" cy="877.5" r="1.2"/><circle cx="70.44" cy="774.4" r="1.2"/><circle cx="70.44" cy="801.5" r="1.2"/><circle cx="70.44" cy="803" r="1.2"/><circle cx="70.44" cy="836.6" r="1.2"/><circle cx="70.44" cy="848.2" r="1.2"/><circle cx="70.44" cy="852" r="1.2"/><circle cx="70.44" cy="854.1" r="1.2"/><circle cx="70.44" cy="855.5" r="1.2"/><circle cx="70.44" cy="861.3" r="1.2"/><circle cx="87.78" cy="860.2" r="1.2"/><circle cx="87.78" cy="879.8" r="1.2"/><circle cx="105.12" cy="800.1" r="1.2"/><circle cx="105.12" cy="806.8" r="1.2"/><circle cx="105.12" cy="828.7" r="1.2"/><circle cx="105.12" cy="842.7" r="1.2"/><circle cx="105.12" cy="850.2" r="1.2"/><circle cx="105.12" cy="855.5" r="1.2"/><circle cx="122.46" cy="879.6" r="1.2"/><circle cx="122.46" cy="882.5" r="1.2"/><circle cx="139.8" cy="834.8" r="1.2"/><circle cx="139.8" cy="872.6" r="1.2"/><circle cx="139.8" cy="873.7" r="1.2"/><circle cx="139.8" cy="881.9" r="1.2"/></g>
<path d="M93.8 781.6L98 781.6M94.85 779.78L96.95 783.42M96.95 779.78L94.85 783.42" stroke="#E8203A" stroke-width="1.0"/>
<path d="M98.9 781.6L103.1 781.6M99.95 779.78L102.05 783.42M102.05 779.78L99.95 783.42" stroke="#E8203A" stroke-width="1.0"/>
<rect x="176" y="757.1" width="109" height="11.4" fill="#E0E0E0"/>
<text x="226.2" y="766.2" font-size="9.4" text-anchor="middle" fill="#1a1a1a" textLength="22.5" lengthAdjust="spacingAndGlyphs">agg3B</text>
<rect x="176.5" y="768.5" width="108" height="122" fill="#fff" stroke="#808080" stroke-width="0.95"/>
<text transform="translate(173.4,886.9) scale(1.06,1)" font-size="11.1" text-anchor="end" fill="#4D4D4D">0.0</text>
<text transform="translate(173.4,864.46) scale(1.06,1)" font-size="11.1" text-anchor="end" fill="#4D4D4D">0.1</text>
<text transform="translate(173.4,842) scale(1.06,1)" font-size="11.1" text-anchor="end" fill="#4D4D4D">0.2</text>
<text transform="translate(173.4,819.6) scale(1.06,1)" font-size="11.1" text-anchor="end" fill="#4D4D4D">0.3</text>
<text transform="translate(173.4,797.1) scale(1.06,1)" font-size="11.1" text-anchor="end" fill="#4D4D4D">0.4</text>
<text transform="translate(173.4,774.7) scale(1.06,1)" font-size="11.1" text-anchor="end" fill="#4D4D4D">0.5</text>
<path d="M174.2 885.5H176.5M174.2 862.5H176.5M174.2 840.5H176.5M174.2 817.5H176.5M174.2 795.5H176.5M174.2 772.5H176.5M186.9 890.5V892.8M204.24 890.5V892.8M221.58 890.5V892.8M238.92 890.5V892.8M256.26 890.5V892.8M273.6 890.5V892.8" stroke="#808080" stroke-width="0.9" fill="none"/>
<text transform="translate(189.1,892.7) rotate(-90) scale(0.85,1)" font-size="8.9" text-anchor="end" fill="#444" stroke="#444" stroke-width="0.1">A_ATL</text>
<text transform="translate(206.44,892.7) rotate(-90) scale(0.85,1)" font-size="8.9" text-anchor="end" fill="#444" stroke="#444" stroke-width="0.1">A_Maputo</text>
<text transform="translate(223.78,892.7) rotate(-90) scale(0.85,1)" font-size="8.9" text-anchor="end" fill="#444" stroke="#444" stroke-width="0.1">B_ATL</text>
<text transform="translate(241.12,892.7) rotate(-90) scale(0.85,1)" font-size="8.9" text-anchor="end" fill="#444" stroke="#444" stroke-width="0.1">B_Maputo</text>
<text transform="translate(258.46,892.7) rotate(-90) scale(0.85,1)" font-size="8.9" text-anchor="end" fill="#444" stroke="#444" stroke-width="0.1">C_ATL</text>
<text transform="translate(275.8,892.7) rotate(-90) scale(0.85,1)" font-size="8.9" text-anchor="end" fill="#444" stroke="#444" stroke-width="0.1">C_Maputo</text>
<path d="M180.37 885H193.44" stroke="#a8a8a8" stroke-width="1.8"/>
<rect x="197.71" y="882.6" width="13.06" height="2.6" fill="#00BF7D" stroke="#0a6e4a" stroke-width="0.6"/>
<path d="M197.71 884.5H210.77" stroke="#0a4a33" stroke-width="1"/>
<path d="M215.05 885H228.11" stroke="#a8a8a8" stroke-width="1.8"/>
<rect x="232.39" y="883" width="13.06" height="2" fill="#00BF7D" stroke="#0a6e4a" stroke-width="0.6"/>
<path d="M232.39 884.5H245.45" stroke="#0a4a33" stroke-width="1"/>
<path d="M249.73 885H262.79" stroke="#a8a8a8" stroke-width="1.8"/>
<path d="M267.06 885H280.13" stroke="#a8a8a8" stroke-width="1.8"/>
<g fill="#1a1a1a"><circle cx="186.9" cy="874.9" r="1.2"/><circle cx="186.9" cy="876" r="1.2"/><circle cx="186.9" cy="882.5" r="1.2"/><circle cx="204.24" cy="774.1" r="1.2"/><circle cx="204.24" cy="803.6" r="1.2"/><circle cx="204.24" cy="846.3" r="1.2"/><circle cx="204.24" cy="854.5" r="1.2"/><circle cx="204.24" cy="857.6" r="1.2"/><circle cx="204.24" cy="868.8" r="1.2"/><circle cx="204.24" cy="871" r="1.2"/><circle cx="204.24" cy="877.1" r="1.2"/><circle cx="204.24" cy="879.3" r="1.2"/><circle cx="238.92" cy="794.9" r="1.2"/><circle cx="238.92" cy="863.3" r="1.2"/><circle cx="238.92" cy="866.1" r="1.2"/><circle cx="238.92" cy="872.7" r="1.2"/><circle cx="238.92" cy="877.7" r="1.2"/><circle cx="238.92" cy="879.3" r="1.2"/><circle cx="238.92" cy="881.5" r="1.2"/><circle cx="256.26" cy="883" r="1.2"/><circle cx="273.6" cy="811.7" r="1.2"/><circle cx="273.6" cy="881.5" r="1.2"/><circle cx="273.6" cy="883" r="1.2"/></g>
<path d="M229.6 782.2L234.6 782.2M230.85 780.03L233.35 784.37M233.35 780.03L230.85 784.37" stroke="#E8203A" stroke-width="1.0"/>
<rect x="316" y="758.1" width="98" height="12.4" fill="#E0E0E0"/>
<text x="371.2" y="768.5" font-size="11.2" text-anchor="middle" fill="#1a1a1a" textLength="22.4" lengthAdjust="spacingAndGlyphs">bfpA</text>
<rect x="316.5" y="770.5" width="97" height="115" fill="#fff" stroke="#808080" stroke-width="0.95"/>
<text transform="translate(313.6,882.3) scale(1.06,1)" font-size="10.1" text-anchor="end" fill="#4D4D4D">0.00</text>
<text transform="translate(313.6,842.5) scale(1.06,1)" font-size="10.1" text-anchor="end" fill="#4D4D4D">0.05</text>
<text transform="translate(313.6,802.7) scale(1.06,1)" font-size="10.1" text-anchor="end" fill="#4D4D4D">0.10</text>
<path d="M314.2 880.5H316.5M314.2 840.5H316.5M314.2 800.5H316.5M326.2 885.5V887.8M341.86 885.5V887.8M357.52 885.5V887.8M373.18 885.5V887.8M388.84 885.5V887.8M404.5 885.5V887.8" stroke="#808080" stroke-width="0.9" fill="none"/>
<text transform="translate(328.4,889.4) rotate(-90) scale(0.85,1)" font-size="8.9" text-anchor="end" fill="#444" stroke="#444" stroke-width="0.1">A_ATL</text>
<text transform="translate(344.06,889.4) rotate(-90) scale(0.85,1)" font-size="8.9" text-anchor="end" fill="#444" stroke="#444" stroke-width="0.1">A_Maputo</text>
<text transform="translate(359.72,889.4) rotate(-90) scale(0.85,1)" font-size="8.9" text-anchor="end" fill="#444" stroke="#444" stroke-width="0.1">B_ATL</text>
<text transform="translate(375.38,889.4) rotate(-90) scale(0.85,1)" font-size="8.9" text-anchor="end" fill="#444" stroke="#444" stroke-width="0.1">B_Maputo</text>
<text transform="translate(391.04,889.4) rotate(-90) scale(0.85,1)" font-size="8.9" text-anchor="end" fill="#444" stroke="#444" stroke-width="0.1">C_ATL</text>
<text transform="translate(406.7,889.4) rotate(-90) scale(0.85,1)" font-size="8.9" text-anchor="end" fill="#444" stroke="#444" stroke-width="0.1">C_Maputo</text>
<path d="M320.33 880.5H332.06" stroke="#8a8a8a" stroke-width="1.2"/>
<path d="M341.86 857.8V870.9" stroke="#C8C8C8" stroke-width="0.8"/>
<rect x="335.99" y="870.9" width="11.73" height="9.8" fill="#9590FF" stroke="#4d4a99" stroke-width="0.6"/>
<path d="M335.99 879.5H347.73" stroke="#333166" stroke-width="1"/>
<path d="M351.65 880.5H363.39" stroke="#8a8a8a" stroke-width="1.2"/>
<rect x="367.31" y="877.8" width="11.73" height="2.9" fill="#9590FF" stroke="#4d4a99" stroke-width="0.6"/>
<path d="M367.31 879.5H379.05" stroke="#333166" stroke-width="1"/>
<path d="M382.97 880.5H394.71" stroke="#8a8a8a" stroke-width="1.2"/>
<rect x="398.64" y="879" width="11.73" height="1.7" fill="#9590FF" stroke="#4d4a99" stroke-width="0.6"/>
<path d="M398.64 880.5H410.37" stroke="#333166" stroke-width="1"/>
<g fill="#1a1a1a"><circle cx="341.86" cy="817.7" r="1.2"/><circle cx="341.86" cy="833.9" r="1.2"/><circle cx="341.86" cy="835.9" r="1.2"/><circle cx="373.18" cy="775.6" r="1.2"/><circle cx="373.18" cy="823.7" r="1.2"/><circle cx="373.18" cy="843.1" r="1.2"/><circle cx="373.18" cy="843.9" r="1.2"/><circle cx="373.18" cy="854.7" r="1.2"/><circle cx="373.18" cy="867.6" r="1.2"/><circle cx="373.18" cy="871.1" r="1.2"/><circle cx="373.18" cy="872.5" r="1.2"/><circle cx="388.84" cy="847.2" r="1.2"/><circle cx="388.84" cy="878.2" r="1.2"/><circle cx="404.5" cy="831.2" r="1.2"/><circle cx="404.5" cy="840.4" r="1.2"/><circle cx="404.5" cy="843.5" r="1.2"/><circle cx="404.5" cy="857.8" r="1.2"/><circle cx="404.5" cy="875.2" r="1.2"/><circle cx="404.5" cy="877.2" r="1.2"/></g>
<path d="M333.15 799.7L336.05 799.7M333.88 798.44L335.33 800.96M335.33 798.44L333.88 800.96" stroke="#E8203A" stroke-width="1.0"/>
<path d="M336.95 799.7L339.85 799.7M337.67 798.44L339.12 800.96M339.12 798.44L337.67 800.96" stroke="#E8203A" stroke-width="1.0"/>
<path d="M365.75 799.7L368.65 799.7M366.47 798.44L367.93 800.96M367.93 798.44L366.47 800.96" stroke="#E8203A" stroke-width="1.0"/>
<path d="M369.75 799.7L372.65 799.7M370.47 798.44L371.93 800.96M371.93 798.44L370.47 800.96" stroke="#E8203A" stroke-width="1.0"/>
<rect x="445" y="759" width="97" height="11.5" fill="#E0E0E0"/>
<text x="498" y="768.6" font-size="11.4" text-anchor="middle" fill="#1a1a1a" textLength="18.4" lengthAdjust="spacingAndGlyphs">eae</text>
<rect x="445.5" y="770.5" width="96" height="116" fill="#fff" stroke="#808080" stroke-width="0.95"/>
<text transform="translate(443,883.6) scale(1.06,1)" font-size="9" text-anchor="end" fill="#4D4D4D">0.000</text>
<text transform="translate(443,858.6) scale(1.06,1)" font-size="9" text-anchor="end" fill="#4D4D4D">0.025</text>
<text transform="translate(443,833.6) scale(1.06,1)" font-size="9" text-anchor="end" fill="#4D4D4D">0.050</text>
<text transform="translate(443,808.6) scale(1.06,1)" font-size="9" text-anchor="end" fill="#4D4D4D">0.075</text>
<text transform="translate(443,783.6) scale(1.06,1)" font-size="9" text-anchor="end" fill="#4D4D4D">0.100</text>
<path d="M443.2 881.5H445.5M443.2 856.5H445.5M443.2 831.5H445.5M443.2 806.5H445.5M443.2 781.5H445.5M454.42 886.5V888.8M469.95 886.5V888.8M485.48 886.5V888.8M501.02 886.5V888.8M516.55 886.5V888.8M532.08 886.5V888.8" stroke="#808080" stroke-width="0.9" fill="none"/>
<text transform="translate(456.62,889.4) rotate(-90) scale(0.85,1)" font-size="8.9" text-anchor="end" fill="#444" stroke="#444" stroke-width="0.1">A_ATL</text>
<text transform="translate(472.15,889.4) rotate(-90) scale(0.85,1)" font-size="8.9" text-anchor="end" fill="#444" stroke="#444" stroke-width="0.1">A_Maputo</text>
<text transform="translate(487.68,889.4) rotate(-90) scale(0.85,1)" font-size="8.9" text-anchor="end" fill="#444" stroke="#444" stroke-width="0.1">B_ATL</text>
<text transform="translate(503.22,889.4) rotate(-90) scale(0.85,1)" font-size="8.9" text-anchor="end" fill="#444" stroke="#444" stroke-width="0.1">B_Maputo</text>
<text transform="translate(518.75,889.4) rotate(-90) scale(0.85,1)" font-size="8.9" text-anchor="end" fill="#444" stroke="#444" stroke-width="0.1">C_ATL</text>
<text transform="translate(534.28,889.4) rotate(-90) scale(0.85,1)" font-size="8.9" text-anchor="end" fill="#444" stroke="#444" stroke-width="0.1">C_Maputo</text>
<path d="M454.42 860.9V870.9" stroke="#C8C8C8" stroke-width="0.8"/>
<rect x="448.61" y="870.9" width="11.61" height="9.1" fill="#F564C8" stroke="#8a3672" stroke-width="0.6"/>
<path d="M448.61 879.5H460.23" stroke="#5a2249" stroke-width="1"/>
<path d="M469.95 850.4V865.1" stroke="#C8C8C8" stroke-width="0.8"/>
<rect x="464.15" y="865.1" width="11.61" height="14.5" fill="#F564C8" stroke="#8a3672" stroke-width="0.6"/>
<path d="M464.15 876.5H475.76" stroke="#5a2249" stroke-width="1"/>
<path d="M479.68 881H491.29" stroke="#555" stroke-width="1.2"/>
<path d="M501.02 842.2V859.7" stroke="#C8C8C8" stroke-width="0.8"/>
<rect x="495.21" y="859.7" width="11.61" height="20.6" fill="#F564C8" stroke="#8a3672" stroke-width="0.6"/>
<path d="M495.21 876.5H506.82" stroke="#5a2249" stroke-width="1"/>
<path d="M510.74 881H522.35" stroke="#555" stroke-width="1.2"/>
<rect x="526.27" y="879" width="11.61" height="2" fill="#F564C8" stroke="#8a3672" stroke-width="0.6"/>
<path d="M526.27 880.5H537.89" stroke="#5a2249" stroke-width="1"/>
<g fill="#1a1a1a"><circle cx="469.95" cy="776.2" r="1.2"/><circle cx="469.95" cy="829.6" r="1.2"/><circle cx="469.95" cy="831.4" r="1.2"/><circle cx="469.95" cy="833.2" r="1.2"/><circle cx="469.95" cy="835" r="1.2"/><circle cx="469.95" cy="838.1" r="1.2"/><circle cx="485.48" cy="869.1" r="1.2"/><circle cx="501.02" cy="778.9" r="1.2"/><circle cx="501.02" cy="788.5" r="1.2"/><circle cx="501.02" cy="802.4" r="1.2"/><circle cx="501.02" cy="803.8" r="1.2"/><circle cx="501.02" cy="816.1" r="1.2"/><circle cx="501.02" cy="822.2" r="1.2"/><circle cx="501.02" cy="823.6" r="1.2"/><circle cx="516.55" cy="809.5" r="1.2"/><circle cx="516.55" cy="823.3" r="1.2"/><circle cx="516.55" cy="879.6" r="1.2"/><circle cx="532.08" cy="858.4" r="1.2"/><circle cx="532.08" cy="862.4" r="1.2"/><circle cx="532.08" cy="867.5" r="1.2"/><circle cx="532.08" cy="871.1" r="1.2"/><circle cx="532.08" cy="876.5" r="1.2"/></g>
<path d="M492.05 795.5L495.55 795.5M492.93 793.98L494.68 797.02M494.68 793.98L492.93 797.02" stroke="#E8203A" stroke-width="1.0"/>
<path d="M495.85 795.5L499.35 795.5M496.73 793.98L498.48 797.02M498.48 793.98L496.73 797.02" stroke="#E8203A" stroke-width="1.0"/>
</svg></body></html>
